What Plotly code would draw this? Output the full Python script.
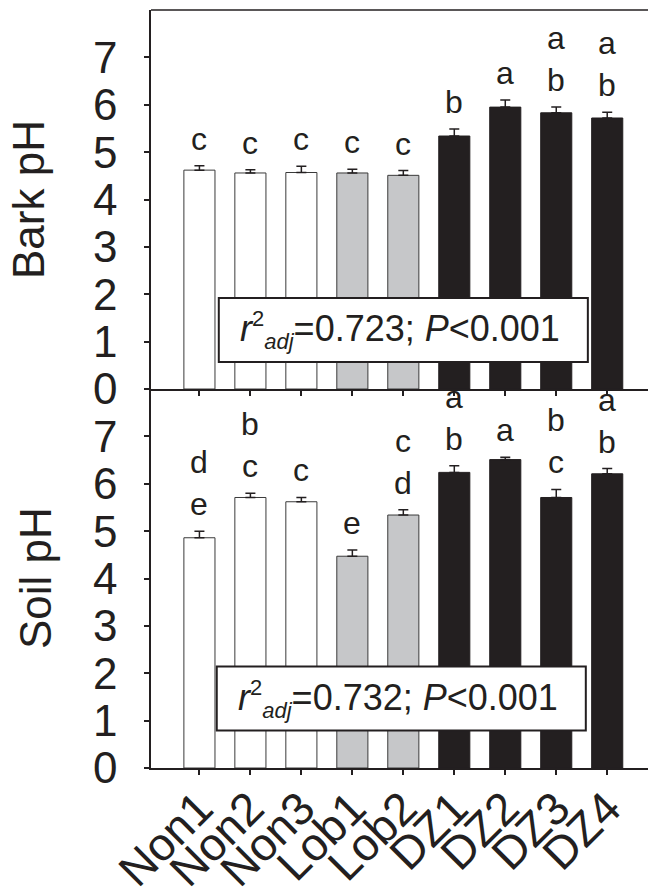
import plotly.graph_objects as go

# Sites and their stand type
sites = ["Non1", "Non2", "Non3", "Lob1", "Lob2", "DZ1", "DZ2", "DZ3", "DZ4"]
site_group = ["Non", "Non", "Non", "Lob", "Lob", "DZ", "DZ", "DZ", "DZ"]

# Bark pH (mean and standard error)
bark_ph = [4.62, 4.56, 4.57, 4.56, 4.51, 5.34, 5.95, 5.83, 5.72]
bark_se = [0.09, 0.07, 0.13, 0.08, 0.10, 0.15, 0.15, 0.12, 0.12]
bark_letters = ["c", "c", "c", "c", "c", "b", "a", "a<br>b", "a<br>b"]

# Soil pH (mean and standard error)
soil_ph = [4.86, 5.71, 5.62, 4.47, 5.34, 6.24, 6.51, 5.71, 6.21]
soil_se = [0.14, 0.09, 0.09, 0.13, 0.11, 0.14, 0.05, 0.17, 0.11]
soil_letters = ["d<br>e", "b<br>c", "c", "e", "c<br>d", "a<br>b", "a", "b<br>c", "a<br>b"]

# Model fit statistics per panel
bark_stats = ("0.723", "0.001")
soil_stats = ("0.732", "0.001")

group_fill = {"Non": "#ffffff", "Lob": "#c6c7c9", "DZ": "#231f20"}
group_edge = {"Non": "#3a3a3a", "Lob": "#3a3a3a", "DZ": "#231f20"}

INK = "#231f20"
FONT = "Liberation Sans, Arial, sans-serif"

fills = [group_fill[g] for g in site_group]
edges = [group_edge[g] for g in site_group]

fig = go.Figure()


def add_panel(values, errors, xa, ya):
    fig.add_trace(go.Bar(
        x=sites, y=values, xaxis=xa, yaxis=ya,
        marker=dict(color=fills, line=dict(color=edges, width=1)),
        error_y=dict(type="data", symmetric=False, array=errors,
                     arrayminus=[0] * len(errors),
                     color=INK, thickness=1.5, width=5),
        showlegend=False, hoverinfo="skip",
    ))


add_panel(bark_ph, bark_se, "x2", "y2")
add_panel(soil_ph, soil_se, "x", "y")

annotations = []


def add_letters(values, errors, letters, xr, yr):
    for s, v, e, t in zip(sites, values, errors, letters):
        annotations.append(dict(
            x=s, y=v + e, xref=xr, yref=yr, text=t, showarrow=False,
            xanchor="center", yanchor="bottom", yshift=7,
            font=dict(family=FONT, size=32, color=INK),
        ))


add_letters(bark_ph, bark_se, bark_letters, "x2", "y2")
add_letters(soil_ph, soil_se, soil_letters, "x", "y")

shapes = []
SMALL = '<span style="font-size:22px">{}</span>'


def add_stats(stats, xr, yr, x0, x1, y0, y1):
    shapes.append(dict(type="rect", xref=xr, yref=yr, x0=x0, x1=x1, y0=y0, y1=y1,
                       fillcolor="white", line=dict(color=INK, width=2), layer="above"))
    r2, p = stats
    label = ("<i>r</i><sup>" + SMALL.format("2") + "</sup><sub>"
             + SMALL.format("<i>adj</i>") + f"</sub>={r2}; <i>P</i>&lt;{p}")
    annotations.append(dict(
        x=(x0 + x1) / 2, y=(y0 + y1) / 2, xref=xr, yref=yr, xshift=-3,
        text=label, showarrow=False, xanchor="center", yanchor="middle",
        font=dict(family=FONT, size=36, color=INK),
    ))


add_stats(bark_stats, "x2", "y2", 0.38, 7.62, 0.57, 1.92)
add_stats(soil_stats, "x", "y", 0.34, 7.58, 0.79, 2.14)

# Y-axis titles
annotations.append(dict(x=0, y=0.75, xref="paper", yref="paper", text="Bark pH",
                        textangle=-90, showarrow=False, xanchor="left", yanchor="middle",
                        xshift=-148, borderpad=0,
                        font=dict(family=FONT, size=44, color=INK)))
annotations.append(dict(x=0, y=0.25, xref="paper", yref="paper", text="Soil pH",
                        textangle=-90, showarrow=False, xanchor="left", yanchor="middle",
                        xshift=-141, borderpad=0,
                        font=dict(family=FONT, size=44, color=INK)))

# Top frame line of the upper panel
shapes.append(dict(type="line", xref="paper", yref="paper", x0=0, x1=1, y0=1, y1=1,
                   line=dict(color=INK, width=1.5)))

axis_common = dict(showline=True, linecolor=INK, linewidth=1.5, ticks="outside",
                   ticklen=5, tickwidth=1.5, tickcolor=INK, showgrid=False,
                   zeroline=False, automargin=False)

yaxis_common = dict(axis_common, range=[0, 8], tickvals=list(range(8)),
                    tickfont=dict(family=FONT, size=44, color=INK),
                    ticklabelstandoff=18)

fig.update_layout(
    width=648, height=888,
    margin=dict(l=151, r=0, t=9.5, b=119.5),
    paper_bgcolor="white", plot_bgcolor="white",
    bargap=0.39,
    xaxis=dict(axis_common, anchor="y", domain=[0, 1], range=[-0.95, 8.8],
               categoryorder="array", categoryarray=sites,
               tickmode="array", tickvals=sites, ticktext=sites, tickangle=-45,
               ticklabelstandoff=-12,
               tickfont=dict(family=FONT, size=46, color=INK)),
    xaxis2=dict(axis_common, anchor="y2", domain=[0, 1], matches="x",
                tickmode="array", tickvals=sites, showticklabels=False),
    yaxis=dict(yaxis_common, anchor="x", domain=[0, 0.5]),
    yaxis2=dict(yaxis_common, anchor="x2", domain=[0.5, 1]),
    annotations=annotations,
    shapes=shapes,
)

fig.write_html("out.html")
